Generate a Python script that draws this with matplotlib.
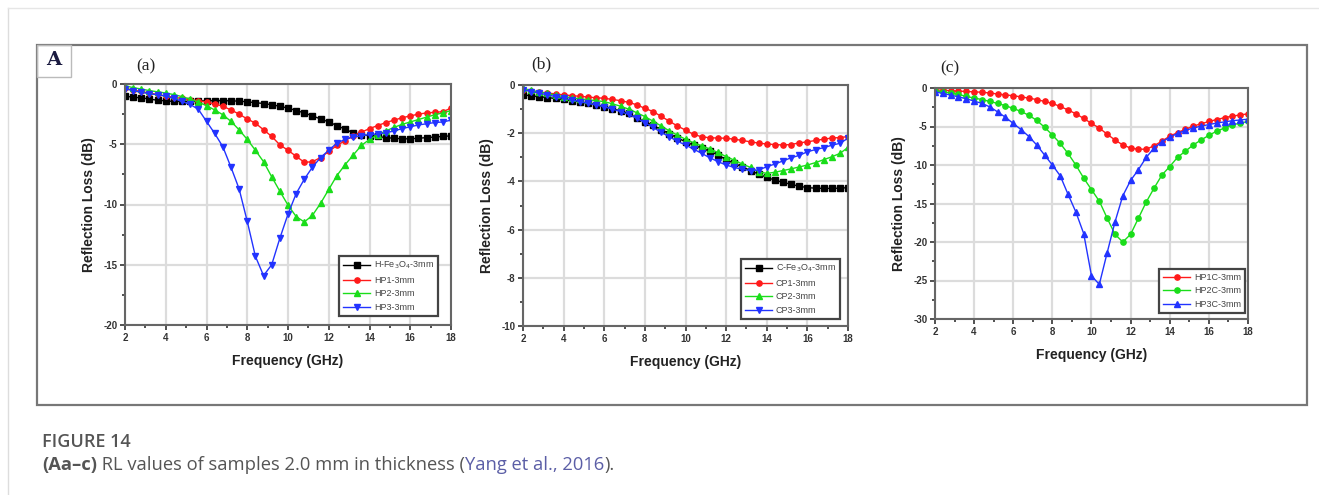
import matplotlib.pyplot as plt
import numpy as np
from matplotlib.lines import Line2D
from matplotlib.patches import Rectangle
from matplotlib.ticker import MultipleLocator

plt.rcParams['axes.unicode_minus'] = False

W, H = 1319, 495

# frequency grid (GHz), one marker every 0.4 GHz
freq = np.round(np.arange(2, 18.01, 0.4), 1)

# (a) reflection loss (dB)
h_fe3o4 = [-1.0, -1.1, -1.15, -1.25, -1.35, -1.4, -1.45, -1.45, -1.45, -1.4, -1.4,
           -1.38, -1.38, -1.4, -1.42, -1.48, -1.55, -1.62, -1.72, -1.85, -2.0,
           -2.2, -2.4, -2.65, -2.9, -3.15, -3.45, -3.75, -4.05, -4.2, -4.3,
           -4.35, -4.45, -4.5, -4.55, -4.55, -4.5, -4.45, -4.4, -4.35, -4.3]
hp1 = [-0.35, -0.5, -0.62, -0.75, -0.87, -1.0, -1.1, -1.2, -1.3, -1.4, -1.5,
       -1.65, -1.85, -2.15, -2.5, -2.9, -3.25, -3.8, -4.35, -5.05, -5.5,
       -6.0, -6.5, -6.45, -6.1, -5.6, -5.1, -4.7, -4.3, -4.0, -3.7,
       -3.45, -3.2, -3.0, -2.8, -2.65, -2.5, -2.4, -2.35, -2.3, -2.0]
hp2 = [-0.15, -0.3, -0.42, -0.55, -0.65, -0.75, -0.88, -1.05, -1.25, -1.5, -1.8,
       -2.15, -2.55, -3.1, -3.8, -4.6, -5.5, -6.45, -7.7, -8.9, -10.05,
       -11.0, -11.45, -10.9, -9.9, -8.75, -7.6, -6.7, -5.9, -5.1, -4.6,
       -4.2, -3.9, -3.6, -3.35, -3.15, -2.95, -2.75, -2.55, -2.4, -2.2]
hp3 = [-0.4, -0.55, -0.7, -0.8, -0.9, -1.0, -1.2, -1.45, -1.7, -2.1, -3.1,
       -4.1, -5.2, -6.9, -8.7, -11.4, -14.3, -15.9, -15.0, -12.8, -10.8,
       -9.1, -7.9, -6.9, -6.1, -5.5, -4.9, -4.6, -4.4, -4.3, -4.2,
       -4.15, -4.05, -3.9, -3.7, -3.55, -3.4, -3.3, -3.2, -3.15, -3.0]

# (b)
c_fe3o4 = [-0.41, -0.45, -0.49, -0.52, -0.56, -0.6, -0.65, -0.7, -0.76, -0.82, -0.9,
           -0.98, -1.08, -1.18, -1.38, -1.52, -1.68, -1.85, -2.02, -2.2, -2.35,
           -2.5, -2.62, -2.75, -2.9, -3.1, -3.25, -3.4, -3.55, -3.7, -3.83,
           -3.95, -4.04, -4.12, -4.2, -4.26, -4.28, -4.29, -4.29, -4.28, -4.26]
cp1 = [-0.2, -0.25, -0.29, -0.33, -0.37, -0.41, -0.44, -0.47, -0.5, -0.53, -0.55,
       -0.6, -0.65, -0.72, -0.82, -0.97, -1.1, -1.3, -1.5, -1.7, -1.87,
       -2.05, -2.15, -2.19, -2.2, -2.21, -2.25, -2.3, -2.36, -2.41, -2.45,
       -2.47, -2.49, -2.47, -2.4, -2.36, -2.3, -2.25, -2.2, -2.18, -2.14]
cp2 = [-0.14, -0.22, -0.29, -0.35, -0.42, -0.48, -0.53, -0.57, -0.61, -0.65, -0.69,
       -0.78, -0.88, -1.0, -1.15, -1.31, -1.5, -1.7, -1.9, -2.08, -2.25,
       -2.4, -2.52, -2.66, -2.8, -2.97, -3.12, -3.28, -3.42, -3.6, -3.67,
       -3.62, -3.55, -3.48, -3.4, -3.32, -3.22, -3.1, -2.98, -2.84, -2.59]
cp3 = [-0.2, -0.27, -0.34, -0.41, -0.48, -0.55, -0.62, -0.69, -0.76, -0.83, -0.9,
       -1.0, -1.1, -1.22, -1.38, -1.56, -1.76, -1.96, -2.15, -2.33, -2.49,
       -2.66, -2.84, -3.02, -3.18, -3.32, -3.42, -3.5, -3.55, -3.53, -3.39,
       -3.28, -3.15, -3.02, -2.92, -2.77, -2.68, -2.6, -2.5, -2.42, -2.21]

# (c)
hp1c = [-0.25, -0.3, -0.35, -0.4, -0.45, -0.5, -0.55, -0.65, -0.78, -0.9, -1.0,
        -1.15, -1.32, -1.5, -1.75, -2.0, -2.4, -2.85, -3.35, -3.95, -4.6,
        -5.2, -6.0, -6.75, -7.4, -7.8, -7.95, -7.95, -7.5, -6.9, -6.25,
        -5.8, -5.35, -4.95, -4.65, -4.35, -4.1, -3.85, -3.65, -3.5, -3.35]
hp2c = [-0.35, -0.5, -0.65, -0.82, -1.1, -1.3, -1.5, -1.75, -2.0, -2.3, -2.65,
        -3.05, -3.55, -4.2, -5.1, -6.1, -7.2, -8.5, -10.0, -11.7, -13.2,
        -14.7, -16.9, -19.0, -20.0, -19.0, -16.9, -14.8, -13.0, -11.3, -10.2,
        -9.0, -8.2, -7.4, -6.75, -6.15, -5.6, -5.2, -4.8, -4.55, -4.35]
hp3c = [-0.5, -0.7, -0.92, -1.15, -1.4, -1.7, -2.0, -2.45, -3.1, -3.8, -4.6,
        -5.4, -6.3, -7.4, -8.7, -10.0, -11.4, -13.8, -16.1, -18.9, -24.4,
        -25.5, -21.4, -17.4, -14.0, -12.0, -10.6, -9.0, -7.8, -7.0, -6.4,
        -5.9, -5.5, -5.2, -4.95, -4.75, -4.55, -4.4, -4.25, -4.15, -4.05]

fig = plt.figure(figsize=(W / 100, H / 100), dpi=100)


def fx(px):
    return px / W


def fy(py):
    return 1 - py / H


def px_axes(x0, y0, x1, y1):
    return fig.add_axes([fx(x0), fy(y1), (x1 - x0) / W, (y1 - y0) / H])


# page border and image frame
fig.add_artist(Line2D([fx(8), fx(8)], [0, fy(8)], color='#dddddd', lw=1))
fig.add_artist(Line2D([fx(8), 1], [fy(8), fy(8)], color='#e6e6e6', lw=1))
fig.add_artist(Rectangle((fx(37), fy(405)), (1307 - 37) / W, (405 - 45) / H,
                         fill=False, edgecolor='#777777', lw=1.6))
fig.add_artist(Rectangle((fx(37), fy(77)), (71 - 37) / W, (77 - 45) / H,
                         fill=False, edgecolor='#bbbbbb', lw=1))
fig.text(fx(54), fy(60), 'A', family='DejaVu Serif', weight='bold', fontsize=14,
         color='#1a1a40', ha='center', va='center')

label_font = dict(family='Liberation Sans', weight='bold', fontsize=10, color='#222222')


def style(ax, ymin, ystep, tag, tag_xy):
    ax.set_xlim(2, 18)
    ax.set_ylim(ymin, 0)
    ax.set_xticks(np.arange(2, 19, 2))
    ax.set_yticks(np.arange(ymin, 0.01, ystep))
    ax.xaxis.set_minor_locator(MultipleLocator(1))
    ax.yaxis.set_minor_locator(MultipleLocator(ystep / 2))
    ax.tick_params(which='both', direction='out', width=1.2, colors='#333333',
                   labelsize=7, pad=2)
    ax.tick_params(which='major', length=3.5)
    ax.tick_params(which='minor', length=2)
    for lab in ax.get_xticklabels() + ax.get_yticklabels():
        lab.set_fontweight('bold')
        lab.set_family('Liberation Sans')
    ax.grid(True, which='major', color='#dcdcdc', lw=1.6)
    ax.set_axisbelow(True)
    for s in ax.spines.values():
        s.set_color('#666666')
        s.set_linewidth(1.5)
    ax.set_xlabel('Frequency (GHz)', labelpad=8, **label_font)
    ax.set_ylabel('Reflection Loss (dB)', labelpad=5, **label_font)
    fig.text(fx(tag_xy[0]), fy(tag_xy[1]), tag, family='Liberation Serif',
             fontsize=12.5, color='#222222', ha='center', va='center')


def add_legend(ax, gap_x, gap_y):
    bb = ax.get_position()
    leg = ax.legend(loc='lower right', fontsize=6.5,
                    bbox_to_anchor=(1 - gap_x / (bb.width * W), gap_y / (bb.height * H)),
                    borderaxespad=0, fancybox=False, framealpha=1, edgecolor='#444444',
                    handlelength=3.0, labelspacing=0.5, borderpad=0.45, handletextpad=0.4)
    leg.get_frame().set_linewidth(1.6)
    for t in leg.get_texts():
        t.set_color('#444444')
        t.set_family('Liberation Sans')


kw = dict(lw=1, ms=3.8)

# panel (a)
ax_a = px_axes(125, 84, 451, 325)
ax_a.plot(freq, h_fe3o4, color='black', marker='s', label=r'H-Fe$_3$O$_4$-3mm', **kw)
ax_a.plot(freq, hp1, color='#ff1a1a', marker='o', label='HP1-3mm', **kw)
ax_a.plot(freq, hp2, color='#1add1a', marker='^', label='HP2-3mm', **kw)
ax_a.plot(freq, hp3, color='#2233ff', marker='v', label='HP3-3mm', **kw)
style(ax_a, -20, 5, '(a)', (146, 66))
add_legend(ax_a, 13, 9)

# panel (b)
ax_b = px_axes(523, 85, 848, 326)
ax_b.plot(freq, c_fe3o4, color='black', marker='s', label=r'C-Fe$_3$O$_4$-3mm', **kw)
ax_b.plot(freq, cp1, color='#ff1a1a', marker='o', label='CP1-3mm', **kw)
ax_b.plot(freq, cp2, color='#1add1a', marker='^', label='CP2-3mm', **kw)
ax_b.plot(freq, cp3, color='#2233ff', marker='v', label='CP3-3mm', **kw)
style(ax_b, -10, 2, '(b)', (541, 64))
add_legend(ax_b, 8, 7)

# panel (c)
ax_c = px_axes(935, 88, 1248, 319)
ax_c.plot(freq, hp1c, color='#ff1a1a', marker='o', label='HP1C-3mm', **kw)
ax_c.plot(freq, hp2c, color='#1add1a', marker='o', label='HP2C-3mm', **kw)
ax_c.plot(freq, hp3c, color='#2233ff', marker='^', label='HP3C-3mm', **kw)
style(ax_c, -30, 5, '(c)', (950, 68))
add_legend(ax_c, 3, 6)

# caption
cap = dict(family='Open Sans', color='#555555', va='baseline')
fig.text(fx(42), fy(447), 'FIGURE 14', weight='semibold', fontsize=13, **cap)
renderer = fig.canvas.get_renderer()
x = fx(42)
pieces = [('(Aa\u2013c)', 'bold', '#555555'),
          (' RL values of samples 2.0 mm in thickness (', 'normal', '#555555'),
          ('Yang et al., 2016', 'normal', '#5b5ea6'),
          (').', 'normal', '#555555')]
for txt, wt, col in pieces:
    c = dict(cap)
    c['color'] = col
    t = fig.text(x, fy(470), txt, weight=wt, fontsize=13.2, **c)
    x = t.get_window_extent(renderer).x1 / W

fig.savefig('out.png', dpi=100)
